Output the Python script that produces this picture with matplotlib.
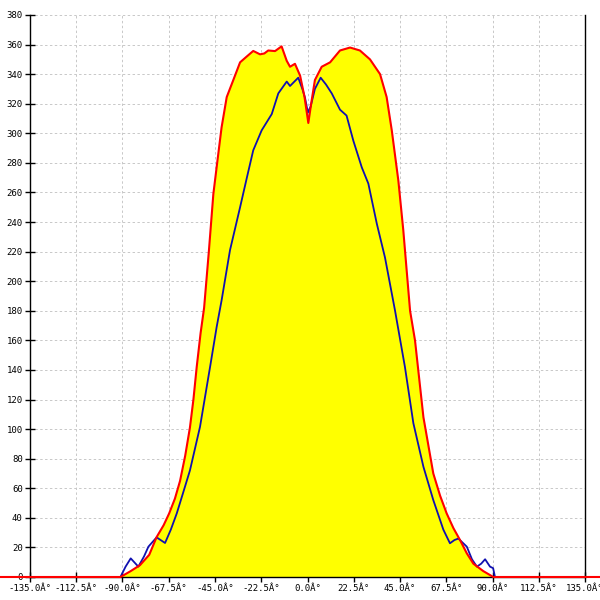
#!/usr/bin/env python3
"""Angular profile chart - red envelope with yellow fill and blue trace"""

import matplotlib
matplotlib.use('Agg')
import matplotlib.pyplot as plt

# Red envelope (degrees, value)
red_angle = [-150, -91, -86, -81.5, -77, -73.4, -70, -67.3, -64.5, -62, -59.5,
             -57.2, -55.5, -53.9, -52, -50.3, -48, -45.8, -43.5, -41.8, -39.3,
             -36.1, -32.8, -29.5, -26.4, -23.1, -21, -19.1, -15.8, -12.6, -10.1,
             -8.5, -6.1, -3.6, -1.5, 0.4, 2, 3.6, 6.9, 11, 15.8, 20.7, 25.5, 30.4,
             35.3, 38.5, 41, 44.2, 46.6, 49.9, 52.3, 56.4, 61.2, 64.5, 67.7, 71,
             74.2, 77.5, 80.7, 85.5, 90.4, 150]
red_value = [0, 0, 4, 8, 15, 27, 35, 43, 53, 65, 82,
             101, 120, 142, 165, 182, 220, 259, 285, 304, 324.5,
             336, 348, 352, 355.7, 353.4, 354, 356, 355.6, 358.8, 349,
             345, 347, 339, 325, 307, 322, 336, 345, 348, 356, 358, 356, 350,
             340, 324.5, 302, 268, 234.5, 180, 160, 108, 70, 55, 43, 33,
             25, 16, 9, 4, 0, 0]

# Blue trace
blue_angle = [-91, -88.5, -86, -82.3, -79.5, -77.4, -73.4, -69.3, -66.5, -63.6,
              -60.5, -57.2, -52.3, -47.4, -44.2, -41.8, -37.7, -32.8, -29.5,
              -26.4, -22.3, -17.4, -14.2, -10.1, -8.5, -4.5, -2.5, -1.2, 0.2,
              1.5, 3.6, 6.4, 9, 11.8, 15.8, 19, 22.3, 26.4, 29.6, 33.7, 37.7,
              42.6, 47.4, 51.5, 56.4, 61.2, 66.1, 69.3, 71.5, 73.4, 77.5, 80,
              82.4, 84.5, 86.4, 88.8, 90.3, 91.2]
blue_value = [0, 7, 12.6, 7, 14, 20.5, 26.8, 23, 32, 43,
              57, 72, 101.5, 142, 169, 187, 221, 250, 270,
              288.5, 302, 313, 327, 335, 332, 337.6, 330, 324, 314,
              318, 330, 337.6, 333, 327, 316, 312, 295, 277, 266, 239, 216,
              180, 142, 104, 74.5, 52, 32, 22.8, 25, 26, 20.5, 12,
              7, 9, 12, 7, 6, 0]

x_ticks = [-135, -112.5, -90, -67.5, -45, -22.5, 0, 22.5, 45, 67.5, 90, 112.5, 135]
x_tick_labels = [f"{t:.1f}\u00c2\u00b0" for t in x_ticks]
y_ticks = list(range(0, 381, 20))


def main():
    fig = plt.figure(figsize=(6, 6), dpi=100)
    ax = fig.add_axes([30 / 600, 23 / 600, 555 / 600, 562 / 600])

    ax.fill_between(red_angle, red_value, 0, color='#ffff00', lw=0, zorder=1)
    ax.plot(blue_angle, blue_value, color='#1010b0', lw=1.3, zorder=3)
    ax.plot(red_angle, red_value, color='#ff0000', lw=1.5, zorder=4,
            clip_on=False)

    ax.set_xlim(-135, 135)
    ax.set_ylim(0, 380)
    ax.set_xticks(x_ticks)
    ax.set_xticklabels(x_tick_labels)
    ax.set_yticks(y_ticks)

    ax.grid(True, color='#c8c8c8', linestyle=(0, (2.5, 2.5)), linewidth=0.7)
    ax.set_axisbelow(True)

    ax.spines['top'].set_visible(False)
    for side in ('left', 'right', 'bottom'):
        ax.spines[side].set_color('black')
        ax.spines[side].set_linewidth(1.0)

    ax.tick_params(axis='both', direction='inout', length=6.5, width=1.0,
                   labelsize=6.5, pad=2)
    for lab in ax.get_xticklabels() + ax.get_yticklabels():
        lab.set_family('DejaVu Sans Mono')

    fig.savefig('out.png', dpi=100)
    plt.close(fig)


if __name__ == '__main__':
    main()
